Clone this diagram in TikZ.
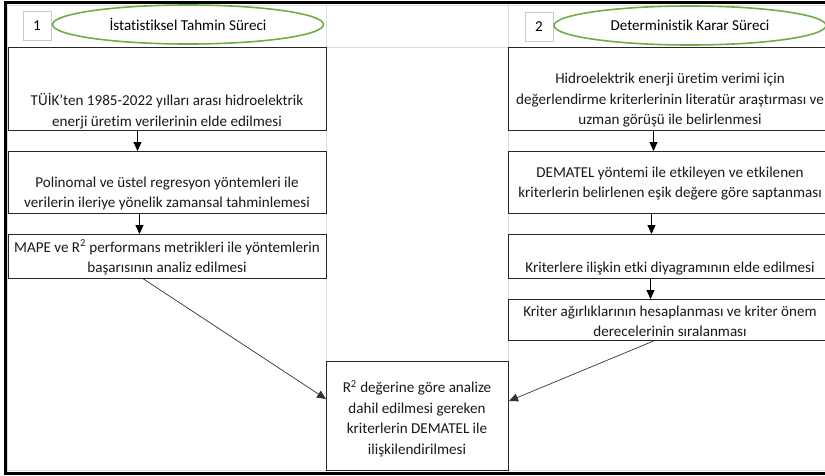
\documentclass[tikz,border=0pt]{standalone}
\usepackage{fontspec}
\setmainfont{Carlito}[Ligatures=NoCommon]
\usetikzlibrary{arrows.meta,calc,positioning,shapes.geometric}
\definecolor{gridgray}{HTML}{DCDCDC}
\definecolor{ovalgreen}{HTML}{70AD47}
\definecolor{boxline}{HTML}{262626}
\definecolor{numgray}{HTML}{C8C8C8}

\begin{document}
\begin{tikzpicture}[x=1pt,y=-1pt,
  stepbox/.style={draw=boxline,line width=1pt,fill=white,inner sep=0pt,anchor=north west},
  txt/.style={align=center,inner sep=0pt,text=black!90,font=\fontsize{15.1}{20.5}\selectfont},
  numbox/.style={draw=numgray,line width=0.8pt,fill=white,minimum width=28,minimum height=29,inner sep=0pt,font=\fontsize{15.1}{17}\selectfont},
  oval/.style={ellipse,draw=ovalgreen,line width=1.6pt,minimum width=271,minimum height=39,inner sep=0pt,font=\fontsize{15.1}{17}\selectfont},
  arr/.style={-{Triangle[length=9pt,width=8pt]},line width=1pt,draw=black},
  diag/.style={-{Triangle[length=9pt,width=8pt]},line width=0.7pt,draw=black!80}]
  \useasboundingbox (0,0) rectangle (825,475);
  \clip (0,0) rectangle (825,475);
  % sheet grid
  \draw[gridgray,line width=0.8pt] (326,4) -- (326,472) (508,4) -- (508,472)
    (7,47) -- (825,47) (7,5) -- (825,5) (7,470) -- (825,470) (7.5,4) -- (7.5,472);
  % headers
  \node[numbox] (n1) at (37,25.5) {1};
  \node[oval] (o1) at (188,24.5) {İstatistiksel Tahmin Süreci};
  \node[numbox] (n2) at (539,26.5) {2};
  \node[oval,minimum width=272] (o2) at (690,25.5) {Deterministik Karar Süreci};
  % left column
  \node[stepbox,minimum width=318,minimum height=83] (a1) at (8,47) {};
  \node[stepbox,minimum width=318,minimum height=62] (a2) at (8,151) {};
  \node[stepbox,minimum width=318,minimum height=44] (a3) at (8,234) {};
  \node[txt] (a1t) at (167,111) {TÜİK'ten 1985-2022 yılları arası hidroelektrik\\enerji üretim verilerinin elde edilmesi};
  \node[txt] (a2t) at (167,193.5) {Polinomal ve üstel regresyon yöntemleri ile\\verilerin ileriye yönelik zamansal tahminlemesi};
  \node[txt] (a3t) at (167,257.5) {MAPE ve R\textsuperscript{2} performans metrikleri ile yöntemlerin\\başarısının analiz edilmesi};
  % right column
  \node[stepbox,minimum width=324,minimum height=83] (b1) at (508,47) {};
  \node[stepbox,minimum width=324,minimum height=62] (b2) at (508,151) {};
  \node[stepbox,minimum width=324,minimum height=44] (b3) at (508,234) {};
  \node[stepbox,minimum width=324,minimum height=41] (b4) at (508,299) {};
  \node[txt] (b1t) at (670,100.5) {Hidroelektrik enerji üretim verimi için\\değerlendirme kriterlerinin literatür araştırması ve\\uzman görüşü ile belirlenmesi};
  \node[txt] (b2t) at (670,183.5) {DEMATEL yöntemi ile etkileyen ve etkilenen\\kriterlerin belirlenen eşik değere göre saptanması};
  \node[txt] (b3t) at (670,269) {Kriterlere ilişkin etki diyagramının elde edilmesi};
  \node[txt] (b4t) at (670,321.5) {Kriter ağırlıklarının hesaplanması ve kriter önem\\derecelerinin sıralanması};
  % joint step
  \node[stepbox,minimum width=182,minimum height=109] (c) at (326,361) {};
  \node[txt] (ct) at (417,418.5) {R\textsuperscript{2} değerine göre analize\\dahil edilmesi gereken\\kriterlerin DEMATEL ile\\ilişkilendirilmesi};
  % flow
  \draw[arr] ([xshift=-30]a1.south) -- ([xshift=-30]a2.north);
  \draw[arr] ([xshift=-28]a2.south) -- ([xshift=-28]a3.north);
  \draw[arr] ([xshift=-17]b1.south) -- ([xshift=-17]b2.north);
  \draw[arr] ([xshift=-19]b2.south) -- ([xshift=-19]b3.north);
  \draw[arr] ([xshift=-20]b3.south) -- ([xshift=-20]b4.north);
  \draw[diag] ([xshift=-24]a3.south) -- ([yshift=17]c.west);
  \draw[diag] ([xshift=-17]b4.south) -- ([yshift=15]c.east);
  % sheet frame
  \draw[line width=3pt] (830,2.2) -- (5,2.2) -- (5,473.5) -- (830,473.5);
\end{tikzpicture}
\end{document}
